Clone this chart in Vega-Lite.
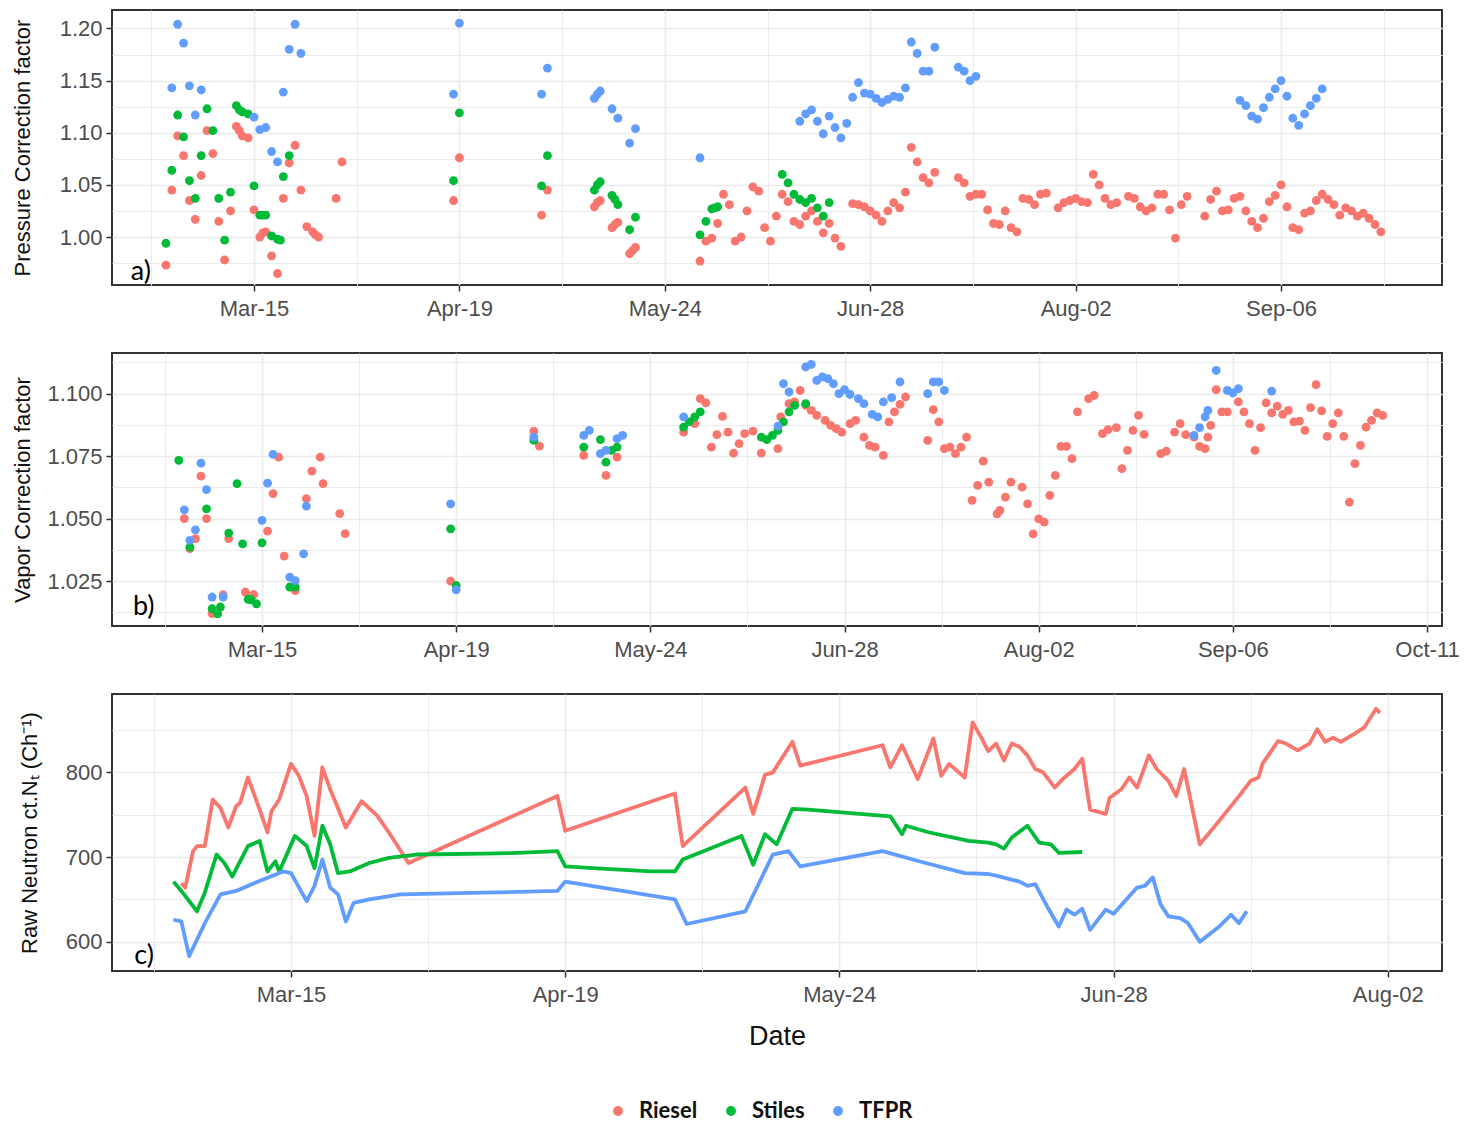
{
  "$schema": "https://vega.github.io/schema/vega-lite/v6.json",
  "padding": {"left": 10, "top": 9, "right": 8, "bottom": 4},
  "bounds": "flush",
  "spacing": 68,
  "config": {
    "font": "Liberation Sans",
    "view": {"stroke": "#333333", "strokeWidth": 2},
    "axis": {
      "domain": false,
      "grid": true,
      "gridColor": "#EBEBEB",
      "labelFont": "Liberation Sans",
      "labelFontSize": 22,
      "labelColor": "#4D4D4D",
      "labelPadding": 4,
      "labelOverlap": false,
      "labelFlush": false,
      "tickColor": "#333333",
      "tickSize": 6,
      "tickWidth": 1.5,
      "titleFont": "Liberation Sans",
      "titleFontSize": 22,
      "titleFontWeight": "normal",
      "titleColor": "#111111"
    },
    "legend": {
      "labelFont": "Lato",
      "labelFontSize": 22,
      "labelFontWeight": "bold",
      "labelColor": "#111111",
      "symbolType": "circle",
      "symbolSize": 70,
      "labelOffset": 10,
      "columnPadding": 22,
      "padding": 0
    }
  },
  "datasets": {
    "pcf": [
      {"site": "Riesel", "date": "2017-02-28", "value": 0.973},
      {"site": "Riesel", "date": "2017-03-01", "value": 1.045},
      {"site": "Riesel", "date": "2017-03-02", "value": 1.097},
      {"site": "Riesel", "date": "2017-03-03", "value": 1.078},
      {"site": "Riesel", "date": "2017-03-04", "value": 1.035},
      {"site": "Riesel", "date": "2017-03-05", "value": 1.017},
      {"site": "Riesel", "date": "2017-03-06", "value": 1.059},
      {"site": "Riesel", "date": "2017-03-07", "value": 1.102},
      {"site": "Riesel", "date": "2017-03-08", "value": 1.080},
      {"site": "Riesel", "date": "2017-03-09", "value": 1.015},
      {"site": "Riesel", "date": "2017-03-10", "value": 0.978},
      {"site": "Riesel", "date": "2017-03-11", "value": 1.025},
      {"site": "Riesel", "date": "2017-03-12", "value": 1.106},
      {"site": "Riesel", "date": "2017-03-12T12:00:00Z", "value": 1.102},
      {"site": "Riesel", "date": "2017-03-13", "value": 1.097},
      {"site": "Riesel", "date": "2017-03-14", "value": 1.095},
      {"site": "Riesel", "date": "2017-03-15", "value": 1.026},
      {"site": "Riesel", "date": "2017-03-16", "value": 1.000},
      {"site": "Riesel", "date": "2017-03-16T12:00:00Z", "value": 1.004},
      {"site": "Riesel", "date": "2017-03-17", "value": 1.005},
      {"site": "Riesel", "date": "2017-03-18", "value": 0.982},
      {"site": "Riesel", "date": "2017-03-19", "value": 0.965},
      {"site": "Riesel", "date": "2017-03-20", "value": 1.037},
      {"site": "Riesel", "date": "2017-03-21", "value": 1.071},
      {"site": "Riesel", "date": "2017-03-22", "value": 1.088},
      {"site": "Riesel", "date": "2017-03-23", "value": 1.045},
      {"site": "Riesel", "date": "2017-03-24", "value": 1.010},
      {"site": "Riesel", "date": "2017-03-25", "value": 1.005},
      {"site": "Riesel", "date": "2017-03-25T12:00:00Z", "value": 1.002},
      {"site": "Riesel", "date": "2017-03-26", "value": 1.000},
      {"site": "Riesel", "date": "2017-03-29", "value": 1.037},
      {"site": "Riesel", "date": "2017-03-30", "value": 1.072},
      {"site": "Riesel", "date": "2017-04-18", "value": 1.035},
      {"site": "Riesel", "date": "2017-04-19", "value": 1.076},
      {"site": "Riesel", "date": "2017-05-03", "value": 1.021},
      {"site": "Riesel", "date": "2017-05-04", "value": 1.045},
      {"site": "Riesel", "date": "2017-05-12", "value": 1.029},
      {"site": "Riesel", "date": "2017-05-12T12:00:00Z", "value": 1.033},
      {"site": "Riesel", "date": "2017-05-13", "value": 1.035},
      {"site": "Riesel", "date": "2017-05-15", "value": 1.009},
      {"site": "Riesel", "date": "2017-05-15T12:00:00Z", "value": 1.012},
      {"site": "Riesel", "date": "2017-05-16", "value": 1.014},
      {"site": "Riesel", "date": "2017-05-18", "value": 0.984},
      {"site": "Riesel", "date": "2017-05-18T12:00:00Z", "value": 0.987},
      {"site": "Riesel", "date": "2017-05-19", "value": 0.990},
      {"site": "Riesel", "date": "2017-05-30", "value": 0.977},
      {"site": "Riesel", "date": "2017-05-31", "value": 0.996},
      {"site": "Riesel", "date": "2017-06-01", "value": 0.999},
      {"site": "Riesel", "date": "2017-06-02", "value": 1.013},
      {"site": "Riesel", "date": "2017-06-03", "value": 1.041},
      {"site": "Riesel", "date": "2017-06-04", "value": 1.031},
      {"site": "Riesel", "date": "2017-06-05", "value": 0.996},
      {"site": "Riesel", "date": "2017-06-06", "value": 1.000},
      {"site": "Riesel", "date": "2017-06-07", "value": 1.025},
      {"site": "Riesel", "date": "2017-06-08", "value": 1.048},
      {"site": "Riesel", "date": "2017-06-09", "value": 1.044},
      {"site": "Riesel", "date": "2017-06-10", "value": 1.009},
      {"site": "Riesel", "date": "2017-06-11", "value": 0.996},
      {"site": "Riesel", "date": "2017-06-12", "value": 1.020},
      {"site": "Riesel", "date": "2017-06-13", "value": 1.041},
      {"site": "Riesel", "date": "2017-06-14", "value": 1.034},
      {"site": "Riesel", "date": "2017-06-15", "value": 1.015},
      {"site": "Riesel", "date": "2017-06-16", "value": 1.012},
      {"site": "Riesel", "date": "2017-06-17", "value": 1.020},
      {"site": "Riesel", "date": "2017-06-18", "value": 1.025},
      {"site": "Riesel", "date": "2017-06-19", "value": 1.015},
      {"site": "Riesel", "date": "2017-06-20", "value": 1.004},
      {"site": "Riesel", "date": "2017-06-21", "value": 1.013},
      {"site": "Riesel", "date": "2017-06-22", "value": 0.999},
      {"site": "Riesel", "date": "2017-06-23", "value": 0.991},
      {"site": "Riesel", "date": "2017-06-25", "value": 1.032},
      {"site": "Riesel", "date": "2017-06-26", "value": 1.031},
      {"site": "Riesel", "date": "2017-06-27", "value": 1.029},
      {"site": "Riesel", "date": "2017-06-28", "value": 1.025},
      {"site": "Riesel", "date": "2017-06-29", "value": 1.021},
      {"site": "Riesel", "date": "2017-06-30", "value": 1.015},
      {"site": "Riesel", "date": "2017-07-01", "value": 1.025},
      {"site": "Riesel", "date": "2017-07-02", "value": 1.033},
      {"site": "Riesel", "date": "2017-07-03", "value": 1.028},
      {"site": "Riesel", "date": "2017-07-04", "value": 1.043},
      {"site": "Riesel", "date": "2017-07-05", "value": 1.086},
      {"site": "Riesel", "date": "2017-07-06", "value": 1.072},
      {"site": "Riesel", "date": "2017-07-07", "value": 1.057},
      {"site": "Riesel", "date": "2017-07-08", "value": 1.052},
      {"site": "Riesel", "date": "2017-07-09", "value": 1.062},
      {"site": "Riesel", "date": "2017-07-13", "value": 1.057},
      {"site": "Riesel", "date": "2017-07-14", "value": 1.052},
      {"site": "Riesel", "date": "2017-07-15", "value": 1.039},
      {"site": "Riesel", "date": "2017-07-16", "value": 1.041},
      {"site": "Riesel", "date": "2017-07-17", "value": 1.041},
      {"site": "Riesel", "date": "2017-07-18", "value": 1.026},
      {"site": "Riesel", "date": "2017-07-19", "value": 1.013},
      {"site": "Riesel", "date": "2017-07-20", "value": 1.012},
      {"site": "Riesel", "date": "2017-07-21", "value": 1.025},
      {"site": "Riesel", "date": "2017-07-22", "value": 1.009},
      {"site": "Riesel", "date": "2017-07-23", "value": 1.005},
      {"site": "Riesel", "date": "2017-07-24", "value": 1.037},
      {"site": "Riesel", "date": "2017-07-25", "value": 1.036},
      {"site": "Riesel", "date": "2017-07-26", "value": 1.031},
      {"site": "Riesel", "date": "2017-07-27", "value": 1.041},
      {"site": "Riesel", "date": "2017-07-28", "value": 1.042},
      {"site": "Riesel", "date": "2017-07-30", "value": 1.028},
      {"site": "Riesel", "date": "2017-07-31", "value": 1.033},
      {"site": "Riesel", "date": "2017-08-01", "value": 1.035},
      {"site": "Riesel", "date": "2017-08-02", "value": 1.037},
      {"site": "Riesel", "date": "2017-08-03", "value": 1.034},
      {"site": "Riesel", "date": "2017-08-04", "value": 1.033},
      {"site": "Riesel", "date": "2017-08-05", "value": 1.060},
      {"site": "Riesel", "date": "2017-08-06", "value": 1.050},
      {"site": "Riesel", "date": "2017-08-07", "value": 1.037},
      {"site": "Riesel", "date": "2017-08-08", "value": 1.031},
      {"site": "Riesel", "date": "2017-08-09", "value": 1.033},
      {"site": "Riesel", "date": "2017-08-11", "value": 1.039},
      {"site": "Riesel", "date": "2017-08-12", "value": 1.037},
      {"site": "Riesel", "date": "2017-08-13", "value": 1.029},
      {"site": "Riesel", "date": "2017-08-14", "value": 1.025},
      {"site": "Riesel", "date": "2017-08-15", "value": 1.028},
      {"site": "Riesel", "date": "2017-08-16", "value": 1.041},
      {"site": "Riesel", "date": "2017-08-17", "value": 1.041},
      {"site": "Riesel", "date": "2017-08-18", "value": 1.026},
      {"site": "Riesel", "date": "2017-08-19", "value": 0.999},
      {"site": "Riesel", "date": "2017-08-20", "value": 1.031},
      {"site": "Riesel", "date": "2017-08-21", "value": 1.039},
      {"site": "Riesel", "date": "2017-08-24", "value": 1.020},
      {"site": "Riesel", "date": "2017-08-25", "value": 1.036},
      {"site": "Riesel", "date": "2017-08-26", "value": 1.044},
      {"site": "Riesel", "date": "2017-08-27", "value": 1.025},
      {"site": "Riesel", "date": "2017-08-28", "value": 1.026},
      {"site": "Riesel", "date": "2017-08-29", "value": 1.037},
      {"site": "Riesel", "date": "2017-08-30", "value": 1.039},
      {"site": "Riesel", "date": "2017-08-31", "value": 1.025},
      {"site": "Riesel", "date": "2017-09-01", "value": 1.015},
      {"site": "Riesel", "date": "2017-09-02", "value": 1.009},
      {"site": "Riesel", "date": "2017-09-03", "value": 1.018},
      {"site": "Riesel", "date": "2017-09-04", "value": 1.034},
      {"site": "Riesel", "date": "2017-09-05", "value": 1.040},
      {"site": "Riesel", "date": "2017-09-06", "value": 1.050},
      {"site": "Riesel", "date": "2017-09-07", "value": 1.029},
      {"site": "Riesel", "date": "2017-09-08", "value": 1.009},
      {"site": "Riesel", "date": "2017-09-09", "value": 1.007},
      {"site": "Riesel", "date": "2017-09-10", "value": 1.023},
      {"site": "Riesel", "date": "2017-09-11", "value": 1.025},
      {"site": "Riesel", "date": "2017-09-12", "value": 1.035},
      {"site": "Riesel", "date": "2017-09-13", "value": 1.041},
      {"site": "Riesel", "date": "2017-09-14", "value": 1.036},
      {"site": "Riesel", "date": "2017-09-15", "value": 1.031},
      {"site": "Riesel", "date": "2017-09-16", "value": 1.021},
      {"site": "Riesel", "date": "2017-09-17", "value": 1.028},
      {"site": "Riesel", "date": "2017-09-18", "value": 1.025},
      {"site": "Riesel", "date": "2017-09-19", "value": 1.020},
      {"site": "Riesel", "date": "2017-09-20", "value": 1.023},
      {"site": "Riesel", "date": "2017-09-21", "value": 1.018},
      {"site": "Riesel", "date": "2017-09-22", "value": 1.012},
      {"site": "Riesel", "date": "2017-09-23", "value": 1.005},
      {"site": "Stiles", "date": "2017-02-28", "value": 0.994},
      {"site": "Stiles", "date": "2017-03-01", "value": 1.064},
      {"site": "Stiles", "date": "2017-03-02", "value": 1.117},
      {"site": "Stiles", "date": "2017-03-03", "value": 1.096},
      {"site": "Stiles", "date": "2017-03-04", "value": 1.054},
      {"site": "Stiles", "date": "2017-03-05", "value": 1.037},
      {"site": "Stiles", "date": "2017-03-06", "value": 1.078},
      {"site": "Stiles", "date": "2017-03-07", "value": 1.123},
      {"site": "Stiles", "date": "2017-03-08", "value": 1.102},
      {"site": "Stiles", "date": "2017-03-09", "value": 1.037},
      {"site": "Stiles", "date": "2017-03-10", "value": 0.997},
      {"site": "Stiles", "date": "2017-03-11", "value": 1.043},
      {"site": "Stiles", "date": "2017-03-12", "value": 1.126},
      {"site": "Stiles", "date": "2017-03-12T12:00:00Z", "value": 1.122},
      {"site": "Stiles", "date": "2017-03-13", "value": 1.120},
      {"site": "Stiles", "date": "2017-03-14", "value": 1.118},
      {"site": "Stiles", "date": "2017-03-15", "value": 1.049},
      {"site": "Stiles", "date": "2017-03-16", "value": 1.021},
      {"site": "Stiles", "date": "2017-03-16T12:00:00Z", "value": 1.021},
      {"site": "Stiles", "date": "2017-03-17", "value": 1.021},
      {"site": "Stiles", "date": "2017-03-18", "value": 1.001},
      {"site": "Stiles", "date": "2017-03-19", "value": 0.998},
      {"site": "Stiles", "date": "2017-03-19T12:00:00Z", "value": 0.997},
      {"site": "Stiles", "date": "2017-03-20", "value": 1.058},
      {"site": "Stiles", "date": "2017-03-21", "value": 1.078},
      {"site": "Stiles", "date": "2017-04-18", "value": 1.054},
      {"site": "Stiles", "date": "2017-04-19", "value": 1.119},
      {"site": "Stiles", "date": "2017-05-03", "value": 1.049},
      {"site": "Stiles", "date": "2017-05-04", "value": 1.078},
      {"site": "Stiles", "date": "2017-05-12", "value": 1.045},
      {"site": "Stiles", "date": "2017-05-12T12:00:00Z", "value": 1.050},
      {"site": "Stiles", "date": "2017-05-13", "value": 1.053},
      {"site": "Stiles", "date": "2017-05-15", "value": 1.040},
      {"site": "Stiles", "date": "2017-05-15T12:00:00Z", "value": 1.036},
      {"site": "Stiles", "date": "2017-05-16", "value": 1.031},
      {"site": "Stiles", "date": "2017-05-18", "value": 1.007},
      {"site": "Stiles", "date": "2017-05-19", "value": 1.019},
      {"site": "Stiles", "date": "2017-05-30", "value": 1.002},
      {"site": "Stiles", "date": "2017-05-31", "value": 1.015},
      {"site": "Stiles", "date": "2017-06-01", "value": 1.027},
      {"site": "Stiles", "date": "2017-06-01T12:00:00Z", "value": 1.028},
      {"site": "Stiles", "date": "2017-06-02", "value": 1.029},
      {"site": "Stiles", "date": "2017-06-13", "value": 1.060},
      {"site": "Stiles", "date": "2017-06-14", "value": 1.052},
      {"site": "Stiles", "date": "2017-06-15", "value": 1.041},
      {"site": "Stiles", "date": "2017-06-16", "value": 1.036},
      {"site": "Stiles", "date": "2017-06-17", "value": 1.033},
      {"site": "Stiles", "date": "2017-06-18", "value": 1.037},
      {"site": "Stiles", "date": "2017-06-19", "value": 1.028},
      {"site": "Stiles", "date": "2017-06-20", "value": 1.020},
      {"site": "Stiles", "date": "2017-06-21", "value": 1.033},
      {"site": "TFPR", "date": "2017-03-01", "value": 1.143},
      {"site": "TFPR", "date": "2017-03-02", "value": 1.204},
      {"site": "TFPR", "date": "2017-03-03", "value": 1.186},
      {"site": "TFPR", "date": "2017-03-04", "value": 1.145},
      {"site": "TFPR", "date": "2017-03-05", "value": 1.117},
      {"site": "TFPR", "date": "2017-03-06", "value": 1.141},
      {"site": "TFPR", "date": "2017-03-15", "value": 1.115},
      {"site": "TFPR", "date": "2017-03-16", "value": 1.103},
      {"site": "TFPR", "date": "2017-03-17", "value": 1.105},
      {"site": "TFPR", "date": "2017-03-18", "value": 1.082},
      {"site": "TFPR", "date": "2017-03-19", "value": 1.072},
      {"site": "TFPR", "date": "2017-03-20", "value": 1.139},
      {"site": "TFPR", "date": "2017-03-21", "value": 1.180},
      {"site": "TFPR", "date": "2017-03-22", "value": 1.204},
      {"site": "TFPR", "date": "2017-03-23", "value": 1.176},
      {"site": "TFPR", "date": "2017-04-18", "value": 1.137},
      {"site": "TFPR", "date": "2017-04-19", "value": 1.205},
      {"site": "TFPR", "date": "2017-05-03", "value": 1.137},
      {"site": "TFPR", "date": "2017-05-04", "value": 1.162},
      {"site": "TFPR", "date": "2017-05-12", "value": 1.133},
      {"site": "TFPR", "date": "2017-05-12T12:00:00Z", "value": 1.137},
      {"site": "TFPR", "date": "2017-05-13", "value": 1.140},
      {"site": "TFPR", "date": "2017-05-15", "value": 1.123},
      {"site": "TFPR", "date": "2017-05-16", "value": 1.114},
      {"site": "TFPR", "date": "2017-05-18", "value": 1.090},
      {"site": "TFPR", "date": "2017-05-19", "value": 1.104},
      {"site": "TFPR", "date": "2017-05-30", "value": 1.076},
      {"site": "TFPR", "date": "2017-06-16", "value": 1.111},
      {"site": "TFPR", "date": "2017-06-17", "value": 1.118},
      {"site": "TFPR", "date": "2017-06-18", "value": 1.122},
      {"site": "TFPR", "date": "2017-06-19", "value": 1.111},
      {"site": "TFPR", "date": "2017-06-20", "value": 1.099},
      {"site": "TFPR", "date": "2017-06-21", "value": 1.116},
      {"site": "TFPR", "date": "2017-06-22", "value": 1.105},
      {"site": "TFPR", "date": "2017-06-23", "value": 1.095},
      {"site": "TFPR", "date": "2017-06-24", "value": 1.109},
      {"site": "TFPR", "date": "2017-06-25", "value": 1.134},
      {"site": "TFPR", "date": "2017-06-26", "value": 1.148},
      {"site": "TFPR", "date": "2017-06-27", "value": 1.138},
      {"site": "TFPR", "date": "2017-06-28", "value": 1.137},
      {"site": "TFPR", "date": "2017-06-29", "value": 1.133},
      {"site": "TFPR", "date": "2017-06-30", "value": 1.129},
      {"site": "TFPR", "date": "2017-07-01", "value": 1.132},
      {"site": "TFPR", "date": "2017-07-02", "value": 1.135},
      {"site": "TFPR", "date": "2017-07-03", "value": 1.134},
      {"site": "TFPR", "date": "2017-07-04", "value": 1.143},
      {"site": "TFPR", "date": "2017-07-05", "value": 1.187},
      {"site": "TFPR", "date": "2017-07-06", "value": 1.176},
      {"site": "TFPR", "date": "2017-07-07", "value": 1.159},
      {"site": "TFPR", "date": "2017-07-08", "value": 1.159},
      {"site": "TFPR", "date": "2017-07-09", "value": 1.182},
      {"site": "TFPR", "date": "2017-07-13", "value": 1.163},
      {"site": "TFPR", "date": "2017-07-14", "value": 1.159},
      {"site": "TFPR", "date": "2017-07-15", "value": 1.150},
      {"site": "TFPR", "date": "2017-07-16", "value": 1.154},
      {"site": "TFPR", "date": "2017-08-30", "value": 1.131},
      {"site": "TFPR", "date": "2017-08-31", "value": 1.126},
      {"site": "TFPR", "date": "2017-09-01", "value": 1.116},
      {"site": "TFPR", "date": "2017-09-02", "value": 1.113},
      {"site": "TFPR", "date": "2017-09-03", "value": 1.124},
      {"site": "TFPR", "date": "2017-09-04", "value": 1.134},
      {"site": "TFPR", "date": "2017-09-05", "value": 1.142},
      {"site": "TFPR", "date": "2017-09-06", "value": 1.150},
      {"site": "TFPR", "date": "2017-09-07", "value": 1.135},
      {"site": "TFPR", "date": "2017-09-08", "value": 1.114},
      {"site": "TFPR", "date": "2017-09-09", "value": 1.107},
      {"site": "TFPR", "date": "2017-09-10", "value": 1.118},
      {"site": "TFPR", "date": "2017-09-11", "value": 1.126},
      {"site": "TFPR", "date": "2017-09-12", "value": 1.133},
      {"site": "TFPR", "date": "2017-09-13", "value": 1.142}
    ],
    "vcf": [
      {"site": "Riesel", "date": "2017-03-01", "value": 1.050},
      {"site": "Riesel", "date": "2017-03-02", "value": 1.038},
      {"site": "Riesel", "date": "2017-03-03", "value": 1.042},
      {"site": "Riesel", "date": "2017-03-04", "value": 1.067},
      {"site": "Riesel", "date": "2017-03-05", "value": 1.050},
      {"site": "Riesel", "date": "2017-03-06", "value": 1.012},
      {"site": "Riesel", "date": "2017-03-08", "value": 1.0195},
      {"site": "Riesel", "date": "2017-03-09", "value": 1.042},
      {"site": "Riesel", "date": "2017-03-12", "value": 1.0206},
      {"site": "Riesel", "date": "2017-03-13T12:00:00Z", "value": 1.0196},
      {"site": "Riesel", "date": "2017-03-16", "value": 1.045},
      {"site": "Riesel", "date": "2017-03-17", "value": 1.060},
      {"site": "Riesel", "date": "2017-03-18", "value": 1.0746},
      {"site": "Riesel", "date": "2017-03-19", "value": 1.035},
      {"site": "Riesel", "date": "2017-03-21", "value": 1.0212},
      {"site": "Riesel", "date": "2017-03-23", "value": 1.058},
      {"site": "Riesel", "date": "2017-03-24", "value": 1.069},
      {"site": "Riesel", "date": "2017-03-25T12:00:00Z", "value": 1.0746},
      {"site": "Riesel", "date": "2017-03-26", "value": 1.064},
      {"site": "Riesel", "date": "2017-03-29", "value": 1.052},
      {"site": "Riesel", "date": "2017-03-30", "value": 1.044},
      {"site": "Riesel", "date": "2017-04-18", "value": 1.025},
      {"site": "Riesel", "date": "2017-05-03", "value": 1.085},
      {"site": "Riesel", "date": "2017-05-04", "value": 1.079},
      {"site": "Riesel", "date": "2017-05-12", "value": 1.0753},
      {"site": "Riesel", "date": "2017-05-16", "value": 1.0673},
      {"site": "Riesel", "date": "2017-05-18", "value": 1.0746},
      {"site": "Riesel", "date": "2017-05-30", "value": 1.0846},
      {"site": "Riesel", "date": "2017-06-01", "value": 1.088},
      {"site": "Riesel", "date": "2017-06-02", "value": 1.098},
      {"site": "Riesel", "date": "2017-06-03", "value": 1.0963},
      {"site": "Riesel", "date": "2017-06-04", "value": 1.0786},
      {"site": "Riesel", "date": "2017-06-05", "value": 1.0836},
      {"site": "Riesel", "date": "2017-06-06", "value": 1.0909},
      {"site": "Riesel", "date": "2017-06-07", "value": 1.0846},
      {"site": "Riesel", "date": "2017-06-08", "value": 1.0762},
      {"site": "Riesel", "date": "2017-06-09", "value": 1.080},
      {"site": "Riesel", "date": "2017-06-10", "value": 1.084},
      {"site": "Riesel", "date": "2017-06-11T12:00:00Z", "value": 1.085},
      {"site": "Riesel", "date": "2017-06-13", "value": 1.0762},
      {"site": "Riesel", "date": "2017-06-16", "value": 1.078},
      {"site": "Riesel", "date": "2017-06-16T12:00:00Z", "value": 1.0907},
      {"site": "Riesel", "date": "2017-06-18", "value": 1.096},
      {"site": "Riesel", "date": "2017-06-19", "value": 1.0967},
      {"site": "Riesel", "date": "2017-06-20", "value": 1.1013},
      {"site": "Riesel", "date": "2017-06-21", "value": 1.0953},
      {"site": "Riesel", "date": "2017-06-22", "value": 1.0933},
      {"site": "Riesel", "date": "2017-06-23", "value": 1.0913},
      {"site": "Riesel", "date": "2017-06-24T12:00:00Z", "value": 1.0893},
      {"site": "Riesel", "date": "2017-06-25T12:00:00Z", "value": 1.0873},
      {"site": "Riesel", "date": "2017-06-26T12:00:00Z", "value": 1.086},
      {"site": "Riesel", "date": "2017-06-27T12:00:00Z", "value": 1.0846},
      {"site": "Riesel", "date": "2017-06-29", "value": 1.088},
      {"site": "Riesel", "date": "2017-06-30", "value": 1.0893},
      {"site": "Riesel", "date": "2017-07-01T12:00:00Z", "value": 1.0826},
      {"site": "Riesel", "date": "2017-07-02T12:00:00Z", "value": 1.0793},
      {"site": "Riesel", "date": "2017-07-03T12:00:00Z", "value": 1.0786},
      {"site": "Riesel", "date": "2017-07-05", "value": 1.0753},
      {"site": "Riesel", "date": "2017-07-06", "value": 1.0887},
      {"site": "Riesel", "date": "2017-07-07", "value": 1.0927},
      {"site": "Riesel", "date": "2017-07-08", "value": 1.0957},
      {"site": "Riesel", "date": "2017-07-09", "value": 1.0987},
      {"site": "Riesel", "date": "2017-07-13", "value": 1.0813},
      {"site": "Riesel", "date": "2017-07-14", "value": 1.0936},
      {"site": "Riesel", "date": "2017-07-15", "value": 1.0887},
      {"site": "Riesel", "date": "2017-07-16", "value": 1.078},
      {"site": "Riesel", "date": "2017-07-17", "value": 1.0786},
      {"site": "Riesel", "date": "2017-07-18", "value": 1.076},
      {"site": "Riesel", "date": "2017-07-19", "value": 1.0786},
      {"site": "Riesel", "date": "2017-07-20", "value": 1.0826},
      {"site": "Riesel", "date": "2017-07-21", "value": 1.0573},
      {"site": "Riesel", "date": "2017-07-22", "value": 1.0633},
      {"site": "Riesel", "date": "2017-07-23", "value": 1.073},
      {"site": "Riesel", "date": "2017-07-24", "value": 1.0646},
      {"site": "Riesel", "date": "2017-07-25T12:00:00Z", "value": 1.0519},
      {"site": "Riesel", "date": "2017-07-26", "value": 1.0533},
      {"site": "Riesel", "date": "2017-07-27", "value": 1.0586},
      {"site": "Riesel", "date": "2017-07-28", "value": 1.0646},
      {"site": "Riesel", "date": "2017-07-30", "value": 1.0626},
      {"site": "Riesel", "date": "2017-07-31", "value": 1.0559},
      {"site": "Riesel", "date": "2017-08-01", "value": 1.0439},
      {"site": "Riesel", "date": "2017-08-02", "value": 1.0499},
      {"site": "Riesel", "date": "2017-08-03", "value": 1.0486},
      {"site": "Riesel", "date": "2017-08-04", "value": 1.0593},
      {"site": "Riesel", "date": "2017-08-05", "value": 1.0673},
      {"site": "Riesel", "date": "2017-08-06", "value": 1.0789},
      {"site": "Riesel", "date": "2017-08-07", "value": 1.0789},
      {"site": "Riesel", "date": "2017-08-08", "value": 1.074},
      {"site": "Riesel", "date": "2017-08-09", "value": 1.0927},
      {"site": "Riesel", "date": "2017-08-11", "value": 1.098},
      {"site": "Riesel", "date": "2017-08-12", "value": 1.0993},
      {"site": "Riesel", "date": "2017-08-13T12:00:00Z", "value": 1.084},
      {"site": "Riesel", "date": "2017-08-14T12:00:00Z", "value": 1.0856},
      {"site": "Riesel", "date": "2017-08-16", "value": 1.0864},
      {"site": "Riesel", "date": "2017-08-17", "value": 1.070},
      {"site": "Riesel", "date": "2017-08-18", "value": 1.0773},
      {"site": "Riesel", "date": "2017-08-19", "value": 1.0853},
      {"site": "Riesel", "date": "2017-08-20", "value": 1.0913},
      {"site": "Riesel", "date": "2017-08-21", "value": 1.0837},
      {"site": "Riesel", "date": "2017-08-24", "value": 1.076},
      {"site": "Riesel", "date": "2017-08-25", "value": 1.077},
      {"site": "Riesel", "date": "2017-08-26T12:00:00Z", "value": 1.0846},
      {"site": "Riesel", "date": "2017-08-27T12:00:00Z", "value": 1.088},
      {"site": "Riesel", "date": "2017-08-28T12:00:00Z", "value": 1.0836},
      {"site": "Riesel", "date": "2017-08-30", "value": 1.0826},
      {"site": "Riesel", "date": "2017-08-31", "value": 1.0789},
      {"site": "Riesel", "date": "2017-09-01", "value": 1.078},
      {"site": "Riesel", "date": "2017-09-01T12:00:00Z", "value": 1.0826},
      {"site": "Riesel", "date": "2017-09-02", "value": 1.0873},
      {"site": "Riesel", "date": "2017-09-03", "value": 1.1016},
      {"site": "Riesel", "date": "2017-09-04", "value": 1.0927},
      {"site": "Riesel", "date": "2017-09-05", "value": 1.0927},
      {"site": "Riesel", "date": "2017-09-07", "value": 1.0967},
      {"site": "Riesel", "date": "2017-09-08", "value": 1.0927},
      {"site": "Riesel", "date": "2017-09-09", "value": 1.088},
      {"site": "Riesel", "date": "2017-09-10", "value": 1.0773},
      {"site": "Riesel", "date": "2017-09-11", "value": 1.0864},
      {"site": "Riesel", "date": "2017-09-12", "value": 1.0963},
      {"site": "Riesel", "date": "2017-09-13", "value": 1.0923},
      {"site": "Riesel", "date": "2017-09-14", "value": 1.095},
      {"site": "Riesel", "date": "2017-09-15", "value": 1.0917},
      {"site": "Riesel", "date": "2017-09-16", "value": 1.0933},
      {"site": "Riesel", "date": "2017-09-17", "value": 1.0887},
      {"site": "Riesel", "date": "2017-09-18", "value": 1.089},
      {"site": "Riesel", "date": "2017-09-19", "value": 1.0853},
      {"site": "Riesel", "date": "2017-09-20", "value": 1.0944},
      {"site": "Riesel", "date": "2017-09-21", "value": 1.1036},
      {"site": "Riesel", "date": "2017-09-22", "value": 1.0931},
      {"site": "Riesel", "date": "2017-09-23", "value": 1.0829},
      {"site": "Riesel", "date": "2017-09-24", "value": 1.088},
      {"site": "Riesel", "date": "2017-09-25", "value": 1.0923},
      {"site": "Riesel", "date": "2017-09-26", "value": 1.0829},
      {"site": "Riesel", "date": "2017-09-27", "value": 1.0566},
      {"site": "Riesel", "date": "2017-09-28", "value": 1.072},
      {"site": "Riesel", "date": "2017-09-29", "value": 1.0793},
      {"site": "Riesel", "date": "2017-09-30", "value": 1.0866},
      {"site": "Riesel", "date": "2017-10-01", "value": 1.0893},
      {"site": "Riesel", "date": "2017-10-02", "value": 1.0923},
      {"site": "Riesel", "date": "2017-10-03", "value": 1.0913},
      {"site": "Stiles", "date": "2017-02-28", "value": 1.0733},
      {"site": "Stiles", "date": "2017-03-02", "value": 1.0386},
      {"site": "Stiles", "date": "2017-03-05", "value": 1.0539},
      {"site": "Stiles", "date": "2017-03-06", "value": 1.0139},
      {"site": "Stiles", "date": "2017-03-07", "value": 1.0119},
      {"site": "Stiles", "date": "2017-03-07T12:00:00Z", "value": 1.0146},
      {"site": "Stiles", "date": "2017-03-09", "value": 1.0442},
      {"site": "Stiles", "date": "2017-03-10T12:00:00Z", "value": 1.064},
      {"site": "Stiles", "date": "2017-03-11T12:00:00Z", "value": 1.0399},
      {"site": "Stiles", "date": "2017-03-12T12:00:00Z", "value": 1.0177},
      {"site": "Stiles", "date": "2017-03-13", "value": 1.0175},
      {"site": "Stiles", "date": "2017-03-14", "value": 1.0159},
      {"site": "Stiles", "date": "2017-03-15", "value": 1.0403},
      {"site": "Stiles", "date": "2017-03-20", "value": 1.0226},
      {"site": "Stiles", "date": "2017-03-21", "value": 1.0226},
      {"site": "Stiles", "date": "2017-04-18", "value": 1.0459},
      {"site": "Stiles", "date": "2017-04-19", "value": 1.0232},
      {"site": "Stiles", "date": "2017-05-03", "value": 1.0813},
      {"site": "Stiles", "date": "2017-05-12", "value": 1.0786},
      {"site": "Stiles", "date": "2017-05-15", "value": 1.0816},
      {"site": "Stiles", "date": "2017-05-16", "value": 1.0726},
      {"site": "Stiles", "date": "2017-05-17", "value": 1.0773},
      {"site": "Stiles", "date": "2017-05-18", "value": 1.0786},
      {"site": "Stiles", "date": "2017-05-30", "value": 1.0866},
      {"site": "Stiles", "date": "2017-05-31", "value": 1.0887},
      {"site": "Stiles", "date": "2017-06-01", "value": 1.0907},
      {"site": "Stiles", "date": "2017-06-02", "value": 1.0927},
      {"site": "Stiles", "date": "2017-06-13", "value": 1.0826},
      {"site": "Stiles", "date": "2017-06-14", "value": 1.0816},
      {"site": "Stiles", "date": "2017-06-15", "value": 1.0833},
      {"site": "Stiles", "date": "2017-06-16", "value": 1.0853},
      {"site": "Stiles", "date": "2017-06-17", "value": 1.0887},
      {"site": "Stiles", "date": "2017-06-18", "value": 1.0927},
      {"site": "Stiles", "date": "2017-06-19", "value": 1.0953},
      {"site": "Stiles", "date": "2017-06-21", "value": 1.096},
      {"site": "TFPR", "date": "2017-03-01", "value": 1.0535},
      {"site": "TFPR", "date": "2017-03-02", "value": 1.0413},
      {"site": "TFPR", "date": "2017-03-03", "value": 1.0455},
      {"site": "TFPR", "date": "2017-03-04", "value": 1.0722},
      {"site": "TFPR", "date": "2017-03-05", "value": 1.0616},
      {"site": "TFPR", "date": "2017-03-06", "value": 1.0186},
      {"site": "TFPR", "date": "2017-03-08", "value": 1.0186},
      {"site": "TFPR", "date": "2017-03-15", "value": 1.0493},
      {"site": "TFPR", "date": "2017-03-16", "value": 1.0642},
      {"site": "TFPR", "date": "2017-03-17", "value": 1.0757},
      {"site": "TFPR", "date": "2017-03-20", "value": 1.0266},
      {"site": "TFPR", "date": "2017-03-21", "value": 1.0252},
      {"site": "TFPR", "date": "2017-03-22T12:00:00Z", "value": 1.0359},
      {"site": "TFPR", "date": "2017-03-23", "value": 1.055},
      {"site": "TFPR", "date": "2017-04-18", "value": 1.0559},
      {"site": "TFPR", "date": "2017-04-19", "value": 1.0215},
      {"site": "TFPR", "date": "2017-05-03", "value": 1.0826},
      {"site": "TFPR", "date": "2017-05-12", "value": 1.0833},
      {"site": "TFPR", "date": "2017-05-13", "value": 1.0853},
      {"site": "TFPR", "date": "2017-05-15", "value": 1.076},
      {"site": "TFPR", "date": "2017-05-16", "value": 1.0773},
      {"site": "TFPR", "date": "2017-05-18", "value": 1.082},
      {"site": "TFPR", "date": "2017-05-19", "value": 1.0833},
      {"site": "TFPR", "date": "2017-05-30", "value": 1.0907},
      {"site": "TFPR", "date": "2017-06-16", "value": 1.087},
      {"site": "TFPR", "date": "2017-06-17", "value": 1.104},
      {"site": "TFPR", "date": "2017-06-18", "value": 1.1007},
      {"site": "TFPR", "date": "2017-06-21", "value": 1.1107},
      {"site": "TFPR", "date": "2017-06-22", "value": 1.1117},
      {"site": "TFPR", "date": "2017-06-23", "value": 1.1053},
      {"site": "TFPR", "date": "2017-06-24", "value": 1.1067},
      {"site": "TFPR", "date": "2017-06-25", "value": 1.106},
      {"site": "TFPR", "date": "2017-06-26", "value": 1.104},
      {"site": "TFPR", "date": "2017-06-27", "value": 1.100},
      {"site": "TFPR", "date": "2017-06-28", "value": 1.1016},
      {"site": "TFPR", "date": "2017-06-29", "value": 1.0997},
      {"site": "TFPR", "date": "2017-06-30T12:00:00Z", "value": 1.098},
      {"site": "TFPR", "date": "2017-07-01T12:00:00Z", "value": 1.096},
      {"site": "TFPR", "date": "2017-07-03", "value": 1.0917},
      {"site": "TFPR", "date": "2017-07-04", "value": 1.0907},
      {"site": "TFPR", "date": "2017-07-05", "value": 1.0967},
      {"site": "TFPR", "date": "2017-07-06T12:00:00Z", "value": 1.0984},
      {"site": "TFPR", "date": "2017-07-08", "value": 1.1047},
      {"site": "TFPR", "date": "2017-07-13", "value": 1.100},
      {"site": "TFPR", "date": "2017-07-14", "value": 1.1047},
      {"site": "TFPR", "date": "2017-07-15", "value": 1.1047},
      {"site": "TFPR", "date": "2017-07-16", "value": 1.1013},
      {"site": "TFPR", "date": "2017-08-30", "value": 1.0833},
      {"site": "TFPR", "date": "2017-08-31", "value": 1.0864},
      {"site": "TFPR", "date": "2017-09-01", "value": 1.0907},
      {"site": "TFPR", "date": "2017-09-01T12:00:00Z", "value": 1.0933},
      {"site": "TFPR", "date": "2017-09-03", "value": 1.1093},
      {"site": "TFPR", "date": "2017-09-05", "value": 1.1013},
      {"site": "TFPR", "date": "2017-09-06", "value": 1.1003},
      {"site": "TFPR", "date": "2017-09-07", "value": 1.102},
      {"site": "TFPR", "date": "2017-09-13", "value": 1.101}
    ],
    "neutron": [
      {"site": "Riesel", "date": "2017-03-01", "value": 669},
      {"site": "Riesel", "date": "2017-03-01T12:00:00Z", "value": 664},
      {"site": "Riesel", "date": "2017-03-02T12:00:00Z", "value": 707},
      {"site": "Riesel", "date": "2017-03-03", "value": 713},
      {"site": "Riesel", "date": "2017-03-04", "value": 713},
      {"site": "Riesel", "date": "2017-03-05", "value": 768},
      {"site": "Riesel", "date": "2017-03-06", "value": 758},
      {"site": "Riesel", "date": "2017-03-07", "value": 735},
      {"site": "Riesel", "date": "2017-03-08", "value": 760},
      {"site": "Riesel", "date": "2017-03-08T12:00:00Z", "value": 764},
      {"site": "Riesel", "date": "2017-03-09T12:00:00Z", "value": 794},
      {"site": "Riesel", "date": "2017-03-11", "value": 756},
      {"site": "Riesel", "date": "2017-03-12", "value": 729},
      {"site": "Riesel", "date": "2017-03-12T12:00:00Z", "value": 754},
      {"site": "Riesel", "date": "2017-03-13T12:00:00Z", "value": 768},
      {"site": "Riesel", "date": "2017-03-15", "value": 810},
      {"site": "Riesel", "date": "2017-03-16", "value": 796},
      {"site": "Riesel", "date": "2017-03-17", "value": 772},
      {"site": "Riesel", "date": "2017-03-18", "value": 725},
      {"site": "Riesel", "date": "2017-03-19", "value": 806},
      {"site": "Riesel", "date": "2017-03-20", "value": 780},
      {"site": "Riesel", "date": "2017-03-22", "value": 735},
      {"site": "Riesel", "date": "2017-03-24", "value": 766},
      {"site": "Riesel", "date": "2017-03-26", "value": 749},
      {"site": "Riesel", "date": "2017-03-27T12:00:00Z", "value": 729},
      {"site": "Riesel", "date": "2017-03-30", "value": 693},
      {"site": "Riesel", "date": "2017-04-18", "value": 772},
      {"site": "Riesel", "date": "2017-04-19", "value": 731},
      {"site": "Riesel", "date": "2017-05-03", "value": 775},
      {"site": "Riesel", "date": "2017-05-04", "value": 713},
      {"site": "Riesel", "date": "2017-05-12", "value": 782},
      {"site": "Riesel", "date": "2017-05-13", "value": 751},
      {"site": "Riesel", "date": "2017-05-14T12:00:00Z", "value": 797},
      {"site": "Riesel", "date": "2017-05-15T12:00:00Z", "value": 800},
      {"site": "Riesel", "date": "2017-05-18", "value": 836},
      {"site": "Riesel", "date": "2017-05-19", "value": 808},
      {"site": "Riesel", "date": "2017-05-29T12:00:00Z", "value": 832},
      {"site": "Riesel", "date": "2017-05-30T12:00:00Z", "value": 806},
      {"site": "Riesel", "date": "2017-06-01", "value": 832},
      {"site": "Riesel", "date": "2017-06-03", "value": 792},
      {"site": "Riesel", "date": "2017-06-05", "value": 840},
      {"site": "Riesel", "date": "2017-06-06", "value": 796},
      {"site": "Riesel", "date": "2017-06-07", "value": 810},
      {"site": "Riesel", "date": "2017-06-09", "value": 794},
      {"site": "Riesel", "date": "2017-06-10", "value": 859},
      {"site": "Riesel", "date": "2017-06-11", "value": 843},
      {"site": "Riesel", "date": "2017-06-12", "value": 825},
      {"site": "Riesel", "date": "2017-06-13", "value": 834},
      {"site": "Riesel", "date": "2017-06-14", "value": 814},
      {"site": "Riesel", "date": "2017-06-15", "value": 834},
      {"site": "Riesel", "date": "2017-06-16", "value": 830},
      {"site": "Riesel", "date": "2017-06-17", "value": 820},
      {"site": "Riesel", "date": "2017-06-18", "value": 804},
      {"site": "Riesel", "date": "2017-06-19", "value": 800},
      {"site": "Riesel", "date": "2017-06-20T12:00:00Z", "value": 782},
      {"site": "Riesel", "date": "2017-06-21T12:00:00Z", "value": 792},
      {"site": "Riesel", "date": "2017-06-23", "value": 804},
      {"site": "Riesel", "date": "2017-06-24", "value": 816},
      {"site": "Riesel", "date": "2017-06-25", "value": 756},
      {"site": "Riesel", "date": "2017-06-27", "value": 751},
      {"site": "Riesel", "date": "2017-06-27T12:00:00Z", "value": 770},
      {"site": "Riesel", "date": "2017-06-29", "value": 780},
      {"site": "Riesel", "date": "2017-06-30", "value": 794},
      {"site": "Riesel", "date": "2017-07-01", "value": 782},
      {"site": "Riesel", "date": "2017-07-02T12:00:00Z", "value": 820},
      {"site": "Riesel", "date": "2017-07-03T12:00:00Z", "value": 804},
      {"site": "Riesel", "date": "2017-07-05", "value": 790},
      {"site": "Riesel", "date": "2017-07-06", "value": 772},
      {"site": "Riesel", "date": "2017-07-07", "value": 804},
      {"site": "Riesel", "date": "2017-07-09", "value": 715},
      {"site": "Riesel", "date": "2017-07-11T12:00:00Z", "value": 743},
      {"site": "Riesel", "date": "2017-07-14", "value": 772},
      {"site": "Riesel", "date": "2017-07-15T12:00:00Z", "value": 790},
      {"site": "Riesel", "date": "2017-07-16T12:00:00Z", "value": 794},
      {"site": "Riesel", "date": "2017-07-17", "value": 810},
      {"site": "Riesel", "date": "2017-07-19", "value": 837},
      {"site": "Riesel", "date": "2017-07-20", "value": 834},
      {"site": "Riesel", "date": "2017-07-21T12:00:00Z", "value": 826},
      {"site": "Riesel", "date": "2017-07-23", "value": 834},
      {"site": "Riesel", "date": "2017-07-24", "value": 851},
      {"site": "Riesel", "date": "2017-07-25", "value": 836},
      {"site": "Riesel", "date": "2017-07-26", "value": 841},
      {"site": "Riesel", "date": "2017-07-27", "value": 836},
      {"site": "Riesel", "date": "2017-07-29", "value": 847},
      {"site": "Riesel", "date": "2017-07-30", "value": 853},
      {"site": "Riesel", "date": "2017-07-31T12:00:00Z", "value": 875},
      {"site": "Riesel", "date": "2017-08-01", "value": 870},
      {"site": "Stiles", "date": "2017-02-28", "value": 671},
      {"site": "Stiles", "date": "2017-03-01", "value": 660},
      {"site": "Stiles", "date": "2017-03-03", "value": 636},
      {"site": "Stiles", "date": "2017-03-04", "value": 658},
      {"site": "Stiles", "date": "2017-03-05T12:00:00Z", "value": 703},
      {"site": "Stiles", "date": "2017-03-06T12:00:00Z", "value": 693},
      {"site": "Stiles", "date": "2017-03-07T12:00:00Z", "value": 677},
      {"site": "Stiles", "date": "2017-03-09T12:00:00Z", "value": 713},
      {"site": "Stiles", "date": "2017-03-11", "value": 719},
      {"site": "Stiles", "date": "2017-03-12", "value": 683},
      {"site": "Stiles", "date": "2017-03-13", "value": 695},
      {"site": "Stiles", "date": "2017-03-13T12:00:00Z", "value": 683},
      {"site": "Stiles", "date": "2017-03-15T12:00:00Z", "value": 725},
      {"site": "Stiles", "date": "2017-03-17", "value": 713},
      {"site": "Stiles", "date": "2017-03-18", "value": 687},
      {"site": "Stiles", "date": "2017-03-19", "value": 737},
      {"site": "Stiles", "date": "2017-03-20", "value": 715},
      {"site": "Stiles", "date": "2017-03-21", "value": 681},
      {"site": "Stiles", "date": "2017-03-22T12:00:00Z", "value": 683},
      {"site": "Stiles", "date": "2017-03-25", "value": 693},
      {"site": "Stiles", "date": "2017-03-27T12:00:00Z", "value": 699},
      {"site": "Stiles", "date": "2017-03-31", "value": 703},
      {"site": "Stiles", "date": "2017-04-08T12:00:00Z", "value": 704},
      {"site": "Stiles", "date": "2017-04-13", "value": 705},
      {"site": "Stiles", "date": "2017-04-18", "value": 707},
      {"site": "Stiles", "date": "2017-04-19", "value": 689},
      {"site": "Stiles", "date": "2017-04-22T12:00:00Z", "value": 687},
      {"site": "Stiles", "date": "2017-04-30", "value": 683},
      {"site": "Stiles", "date": "2017-05-03", "value": 683},
      {"site": "Stiles", "date": "2017-05-04", "value": 697},
      {"site": "Stiles", "date": "2017-05-11T12:00:00Z", "value": 725},
      {"site": "Stiles", "date": "2017-05-13", "value": 691},
      {"site": "Stiles", "date": "2017-05-14T12:00:00Z", "value": 727},
      {"site": "Stiles", "date": "2017-05-16", "value": 715},
      {"site": "Stiles", "date": "2017-05-18", "value": 757},
      {"site": "Stiles", "date": "2017-05-20", "value": 756},
      {"site": "Stiles", "date": "2017-05-30T12:00:00Z", "value": 748},
      {"site": "Stiles", "date": "2017-06-01", "value": 727},
      {"site": "Stiles", "date": "2017-06-01T12:00:00Z", "value": 737},
      {"site": "Stiles", "date": "2017-06-04T12:00:00Z", "value": 729},
      {"site": "Stiles", "date": "2017-06-09T12:00:00Z", "value": 719},
      {"site": "Stiles", "date": "2017-06-12", "value": 717},
      {"site": "Stiles", "date": "2017-06-13", "value": 715},
      {"site": "Stiles", "date": "2017-06-14", "value": 710},
      {"site": "Stiles", "date": "2017-06-15", "value": 723},
      {"site": "Stiles", "date": "2017-06-17", "value": 737},
      {"site": "Stiles", "date": "2017-06-18T12:00:00Z", "value": 717},
      {"site": "Stiles", "date": "2017-06-20", "value": 715},
      {"site": "Stiles", "date": "2017-06-21", "value": 705},
      {"site": "Stiles", "date": "2017-06-24", "value": 706},
      {"site": "TFPR", "date": "2017-02-28", "value": 626},
      {"site": "TFPR", "date": "2017-03-01", "value": 624},
      {"site": "TFPR", "date": "2017-03-02", "value": 583},
      {"site": "TFPR", "date": "2017-03-04", "value": 622},
      {"site": "TFPR", "date": "2017-03-06", "value": 656},
      {"site": "TFPR", "date": "2017-03-08", "value": 660},
      {"site": "TFPR", "date": "2017-03-10T12:00:00Z", "value": 670},
      {"site": "TFPR", "date": "2017-03-14", "value": 683},
      {"site": "TFPR", "date": "2017-03-15", "value": 681},
      {"site": "TFPR", "date": "2017-03-17", "value": 648},
      {"site": "TFPR", "date": "2017-03-18", "value": 666},
      {"site": "TFPR", "date": "2017-03-19", "value": 697},
      {"site": "TFPR", "date": "2017-03-20", "value": 664},
      {"site": "TFPR", "date": "2017-03-21", "value": 656},
      {"site": "TFPR", "date": "2017-03-22", "value": 624},
      {"site": "TFPR", "date": "2017-03-23", "value": 646},
      {"site": "TFPR", "date": "2017-03-25", "value": 650},
      {"site": "TFPR", "date": "2017-03-29", "value": 656},
      {"site": "TFPR", "date": "2017-04-08T12:00:00Z", "value": 658},
      {"site": "TFPR", "date": "2017-04-18", "value": 660},
      {"site": "TFPR", "date": "2017-04-19", "value": 671},
      {"site": "TFPR", "date": "2017-05-03", "value": 650},
      {"site": "TFPR", "date": "2017-05-04T12:00:00Z", "value": 621},
      {"site": "TFPR", "date": "2017-05-12", "value": 636},
      {"site": "TFPR", "date": "2017-05-15T12:00:00Z", "value": 703},
      {"site": "TFPR", "date": "2017-05-17T12:00:00Z", "value": 707},
      {"site": "TFPR", "date": "2017-05-19", "value": 689},
      {"site": "TFPR", "date": "2017-05-29T12:00:00Z", "value": 707},
      {"site": "TFPR", "date": "2017-06-04", "value": 693},
      {"site": "TFPR", "date": "2017-06-09", "value": 681},
      {"site": "TFPR", "date": "2017-06-12", "value": 680},
      {"site": "TFPR", "date": "2017-06-13", "value": 678},
      {"site": "TFPR", "date": "2017-06-16", "value": 671},
      {"site": "TFPR", "date": "2017-06-17", "value": 666},
      {"site": "TFPR", "date": "2017-06-18", "value": 668},
      {"site": "TFPR", "date": "2017-06-19T12:00:00Z", "value": 642},
      {"site": "TFPR", "date": "2017-06-21", "value": 618},
      {"site": "TFPR", "date": "2017-06-22", "value": 638},
      {"site": "TFPR", "date": "2017-06-23", "value": 632},
      {"site": "TFPR", "date": "2017-06-24", "value": 639},
      {"site": "TFPR", "date": "2017-06-25", "value": 614},
      {"site": "TFPR", "date": "2017-06-27", "value": 638},
      {"site": "TFPR", "date": "2017-06-28", "value": 633},
      {"site": "TFPR", "date": "2017-07-01", "value": 664},
      {"site": "TFPR", "date": "2017-07-02", "value": 666},
      {"site": "TFPR", "date": "2017-07-03", "value": 676},
      {"site": "TFPR", "date": "2017-07-04", "value": 644},
      {"site": "TFPR", "date": "2017-07-05", "value": 630},
      {"site": "TFPR", "date": "2017-07-06T12:00:00Z", "value": 628},
      {"site": "TFPR", "date": "2017-07-07T12:00:00Z", "value": 622},
      {"site": "TFPR", "date": "2017-07-09", "value": 600},
      {"site": "TFPR", "date": "2017-07-11T12:00:00Z", "value": 618},
      {"site": "TFPR", "date": "2017-07-13", "value": 632},
      {"site": "TFPR", "date": "2017-07-14", "value": 622},
      {"site": "TFPR", "date": "2017-07-15", "value": 636}
    ]
  },
  "vconcat": [
    {
      "width": 1330,
      "height": 275,
      "data": {"name": "pcf"},
      "resolve": {"axis": {"y": "independent"}},
      "layer": [
        {
          "mark": {"type": "circle", "size": 78, "opacity": 1},
          "encoding": {
            "x": {
              "field": "date",
              "type": "temporal",
              "scale": {
                "type": "utc",
                "nice": false,
                "domain": [
                  {"year": 2017, "month": "feb", "date": 18, "hours": 19, "minutes": 26, "utc": true},
                  {"year": 2017, "month": "oct", "date": 3, "hours": 10, "minutes": 5, "utc": true}
                ]
              },
              "axis": {
                "title": null,
                "labelPadding": 7,
                "values": [
                  {"year": 2017, "month": "feb", "date": 25, "hours": 12, "utc": true},
                  {"year": 2017, "month": "mar", "date": 15, "utc": true},
                  {"year": 2017, "month": "apr", "date": 1, "hours": 12, "utc": true},
                  {"year": 2017, "month": "apr", "date": 19, "utc": true},
                  {"year": 2017, "month": "may", "date": 6, "hours": 12, "utc": true},
                  {"year": 2017, "month": "may", "date": 24, "utc": true},
                  {"year": 2017, "month": "jun", "date": 10, "hours": 12, "utc": true},
                  {"year": 2017, "month": "jun", "date": 28, "utc": true},
                  {"year": 2017, "month": "jul", "date": 15, "hours": 12, "utc": true},
                  {"year": 2017, "month": "aug", "date": 2, "utc": true},
                  {"year": 2017, "month": "aug", "date": 19, "hours": 12, "utc": true},
                  {"year": 2017, "month": "sep", "date": 6, "utc": true},
                  {"year": 2017, "month": "sep", "date": 23, "hours": 12, "utc": true}
                ],
                "labelExpr": "utchours(datum.value) == 12 ? '' : utcFormat(datum.value, '%b-%d')",
                "tickOpacity": {"condition": {"test": "utchours(datum.value) == 12", "value": 0}, "value": 1},
                "gridWidth": {"condition": {"test": "utchours(datum.value) == 12", "value": 1}, "value": 1.6}
              }
            },
            "y": {
              "field": "value",
              "type": "quantitative",
              "scale": {"domain": [0.954, 1.2177], "nice": false, "zero": false},
              "axis": {
                "title": "Pressure Correction factor",
                "titlePadding": 25,
                "values": [1.0, 1.05, 1.1, 1.15, 1.2],
                "format": ".2f",
                "gridWidth": 1.6
              }
            },
            "color": {
              "field": "site",
              "type": "nominal",
              "scale": {"domain": ["Riesel", "Stiles", "TFPR"], "range": ["#F8766D", "#00BA38", "#619CFF"]},
              "legend": {"title": null, "orient": "none", "direction": "horizontal", "legendX": 495, "legendY": 1090}
            }
          }
        },
        {
          "data": {"values": [{}]},
          "mark": {"type": "text", "text": "a)", "font": "Lato", "fontSize": 27, "color": "#000000", "align": "left", "baseline": "alphabetic"},
          "encoding": {
            "x": {"datum": {"year": 2017, "month": "feb", "date": 22, "utc": true}, "type": "temporal"},
            "y": {
              "datum": 0.959,
              "type": "quantitative",
              "axis": {"orient": "right", "values": [0.975, 1.025, 1.075, 1.125, 1.175], "labels": false, "ticks": false, "domain": false, "title": null, "grid": true, "gridWidth": 1}
            }
          }
        }
      ]
    },
    {
      "width": 1330,
      "height": 273,
      "data": {"name": "vcf"},
      "resolve": {"axis": {"y": "independent"}},
      "layer": [
        {
          "mark": {"type": "circle", "size": 78, "opacity": 1},
          "encoding": {
            "x": {
              "field": "date",
              "type": "temporal",
              "scale": {
                "type": "utc",
                "nice": false,
                "domain": [
                  {"year": 2017, "month": "feb", "date": 15, "hours": 23, "minutes": 2, "utc": true},
                  {"year": 2017, "month": "oct", "date": 13, "hours": 16, "minutes": 48, "utc": true}
                ]
              },
              "axis": {
                "title": null,
                "labelPadding": 7,
                "values": [
                  {"year": 2017, "month": "feb", "date": 25, "hours": 12, "utc": true},
                  {"year": 2017, "month": "mar", "date": 15, "utc": true},
                  {"year": 2017, "month": "apr", "date": 1, "hours": 12, "utc": true},
                  {"year": 2017, "month": "apr", "date": 19, "utc": true},
                  {"year": 2017, "month": "may", "date": 6, "hours": 12, "utc": true},
                  {"year": 2017, "month": "may", "date": 24, "utc": true},
                  {"year": 2017, "month": "jun", "date": 10, "hours": 12, "utc": true},
                  {"year": 2017, "month": "jun", "date": 28, "utc": true},
                  {"year": 2017, "month": "jul", "date": 15, "hours": 12, "utc": true},
                  {"year": 2017, "month": "aug", "date": 2, "utc": true},
                  {"year": 2017, "month": "aug", "date": 19, "hours": 12, "utc": true},
                  {"year": 2017, "month": "sep", "date": 6, "utc": true},
                  {"year": 2017, "month": "sep", "date": 23, "hours": 12, "utc": true},
                  {"year": 2017, "month": "oct", "date": 11, "utc": true}
                ],
                "labelExpr": "utchours(datum.value) == 12 ? '' : utcFormat(datum.value, '%b-%d')",
                "tickOpacity": {"condition": {"test": "utchours(datum.value) == 12", "value": 0}, "value": 1},
                "gridWidth": {"condition": {"test": "utchours(datum.value) == 12", "value": 1}, "value": 1.6}
              }
            },
            "y": {
              "field": "value",
              "type": "quantitative",
              "scale": {"domain": [1.007, 1.1163], "nice": false, "zero": false},
              "axis": {
                "title": "Vapor Correction factor",
                "titlePadding": 12,
                "values": [1.025, 1.05, 1.075, 1.1],
                "format": ".3f",
                "gridWidth": 1.6
              }
            },
            "color": {
              "field": "site",
              "type": "nominal",
              "scale": {"domain": ["Riesel", "Stiles", "TFPR"], "range": ["#F8766D", "#00BA38", "#619CFF"]},
              "legend": null
            }
          }
        },
        {
          "data": {"values": [{}]},
          "mark": {"type": "text", "text": "b)", "font": "Lato", "fontSize": 27, "color": "#000000", "align": "left", "baseline": "alphabetic"},
          "encoding": {
            "x": {"datum": {"year": 2017, "month": "feb", "date": 19, "hours": 18, "utc": true}, "type": "temporal"},
            "y": {
              "datum": 1.0116,
              "type": "quantitative",
              "axis": {"orient": "right", "values": [1.0125, 1.0375, 1.0625, 1.0875, 1.1125], "labels": false, "ticks": false, "domain": false, "title": null, "grid": true, "gridWidth": 1}
            }
          }
        }
      ]
    },
    {
      "width": 1330,
      "height": 277,
      "data": {"name": "neutron"},
      "layer": [
        {
          "mark": {"type": "line", "strokeWidth": 3.8, "strokeJoin": "round"},
          "encoding": {
            "x": {
              "field": "date",
              "type": "temporal",
              "scale": {
                "type": "utc",
                "nice": false,
                "domain": [
                  {"year": 2017, "month": "feb", "date": 20, "hours": 3, "minutes": 36, "utc": true},
                  {"year": 2017, "month": "aug", "date": 8, "hours": 22, "minutes": 5, "utc": true}
                ]
              },
              "axis": {
                "title": "Date",
                "titleFontSize": 27,
                "titlePadding": 18,
                "labelPadding": 7,
                "values": [
                  {"year": 2017, "month": "feb", "date": 25, "hours": 12, "utc": true},
                  {"year": 2017, "month": "mar", "date": 15, "utc": true},
                  {"year": 2017, "month": "apr", "date": 1, "hours": 12, "utc": true},
                  {"year": 2017, "month": "apr", "date": 19, "utc": true},
                  {"year": 2017, "month": "may", "date": 6, "hours": 12, "utc": true},
                  {"year": 2017, "month": "may", "date": 24, "utc": true},
                  {"year": 2017, "month": "jun", "date": 10, "hours": 12, "utc": true},
                  {"year": 2017, "month": "jun", "date": 28, "utc": true},
                  {"year": 2017, "month": "jul", "date": 15, "hours": 12, "utc": true},
                  {"year": 2017, "month": "aug", "date": 2, "utc": true}
                ],
                "labelExpr": "utchours(datum.value) == 12 ? '' : utcFormat(datum.value, '%b-%d')",
                "tickOpacity": {"condition": {"test": "utchours(datum.value) == 12", "value": 0}, "value": 1},
                "gridWidth": {"condition": {"test": "utchours(datum.value) == 12", "value": 1}, "value": 1.6}
              }
            },
            "y": {
              "field": "value",
              "type": "quantitative",
              "scale": {"domain": [565.5, 892.5], "nice": false, "zero": false},
              "axis": {
                "title": "Raw Neutron ct.Nₜ (Ch⁻¹)",
                "titlePadding": 24,
                "values": [600, 650, 700, 750, 800, 850],
                "labelExpr": "datum.value % 100 != 0 ? '' : format(datum.value, 'd')",
                "tickOpacity": {"condition": {"test": "datum.value % 100 != 0", "value": 0}, "value": 1},
                "gridWidth": {"condition": {"test": "datum.value % 100 != 0", "value": 1}, "value": 1.6}
              }
            },
            "color": {
              "field": "site",
              "type": "nominal",
              "scale": {"domain": ["Riesel", "Stiles", "TFPR"], "range": ["#F8766D", "#00BA38", "#619CFF"]},
              "legend": null
            }
          }
        },
        {
          "data": {"values": [{}]},
          "mark": {"type": "text", "text": "c)", "font": "Lato", "fontSize": 27, "color": "#000000", "align": "left", "baseline": "alphabetic"},
          "encoding": {
            "x": {"datum": {"year": 2017, "month": "feb", "date": 23, "utc": true}, "type": "temporal"},
            "y": {"datum": 574.3, "type": "quantitative"}
          }
        }
      ]
    }
  ]
}
